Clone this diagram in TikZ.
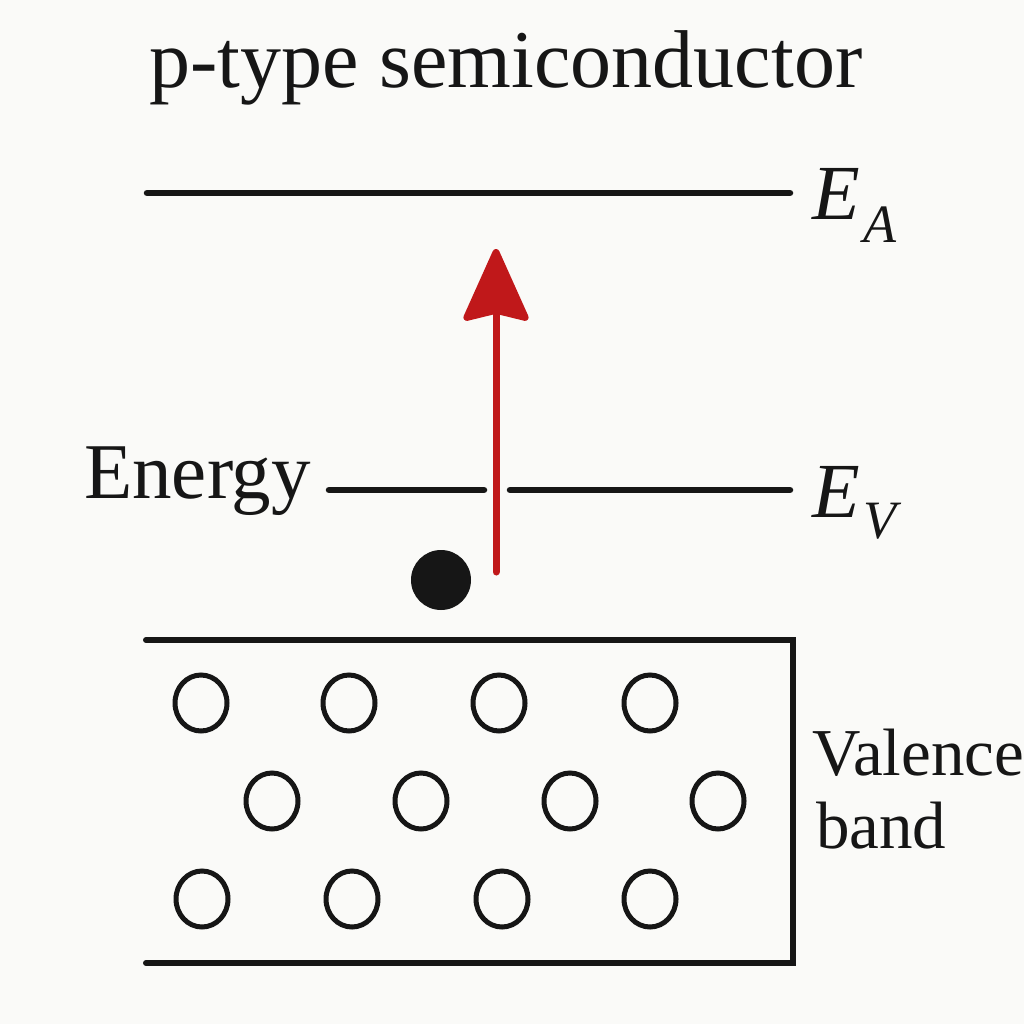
\documentclass[tikz,border=0pt]{standalone}
\usepackage{fontspec}
\setmainfont{Liberation Serif}
\usetikzlibrary{arrows.meta}
\definecolor{bg}{RGB}{250,250,248}
\definecolor{ink}{RGB}{22,22,22}
\definecolor{arrowred}{RGB}{192,24,26}
\tikzset{
  level/.style={line width=6.5pt, ink, line cap=round},
  bandline/.style={line width=6pt, ink, line cap=round, line join=miter},
  holec/.style={draw=ink, line width=5pt},
  lbl/.style={inner sep=0pt, anchor=base west, text=ink},
}
\begin{document}
\begin{tikzpicture}[x=1pt,y=-1pt]
\fill[bg] (0,0) rectangle (1024,1024);
\useasboundingbox (0,0) rectangle (1024,1024);

% title
\node[lbl, anchor=base] (title) at (506,88) {\fontsize{82}{90}\selectfont p-type semiconductor};

% acceptor level
\coordinate (eaL) at (147,193);
\coordinate (eaR) at (790,193);
\draw[level] (eaL) -- (eaR);
\node[lbl] (ealbl) at (812,220) {\fontsize{78}{80}\selectfont\itshape E\kern4pt\raisebox{-23pt}{\fontsize{54}{56}\selectfont A}};

% valence level
\coordinate (evL) at (329,490);
\coordinate (evG1) at (484,490);
\coordinate (evG2) at (510,490);
\coordinate (evR) at (790,490);
\draw[level] (evL) -- (evG1);
\draw[level] (evG2) -- (evR);
\node[lbl] (evlbl) at (812,517) {\fontsize{78}{80}\selectfont\itshape E\kern4pt\raisebox{-21pt}{\fontsize{54}{56}\selectfont V}};

\node[lbl] (energy) at (84,498) {\fontsize{79}{80}\selectfont Energy};

% electron
\node[circle, fill=ink, minimum size=60pt, inner sep=0pt] (dot) at (441,580) {};

% excitation arrow
\coordinate (arrS) at (496,572);
\coordinate (arrE) at (496,249);
\draw[arrowred, line width=7pt, line cap=round,
      -{Stealth[length=78pt,width=69pt,inset=8pt,round]}] (arrS) -- (arrE);

% valence band box
\coordinate (bTL) at (146,640);
\coordinate (bTR) at (793,640);
\coordinate (bBR) at (793,963);
\coordinate (bBL) at (146,963);
\draw[bandline] (bTL) -- (bTR) -- (bBR) -- (bBL);

% holes
\foreach \x in {201,349,499,650}
  \draw[holec] (\x,703) ellipse [x radius=26, y radius=28];
\foreach \x in {272,421,570,718}
  \draw[holec] (\x,801) ellipse [x radius=26, y radius=28];
\foreach \x in {202,352,502,650}
  \draw[holec] (\x,899) ellipse [x radius=26, y radius=28];

\node[lbl] (val) at (812,775) {\fontsize{67}{70}\selectfont Valence};
\node[lbl] (band) at (816,848) {\fontsize{67}{70}\selectfont band};
\end{tikzpicture}
\end{document}
